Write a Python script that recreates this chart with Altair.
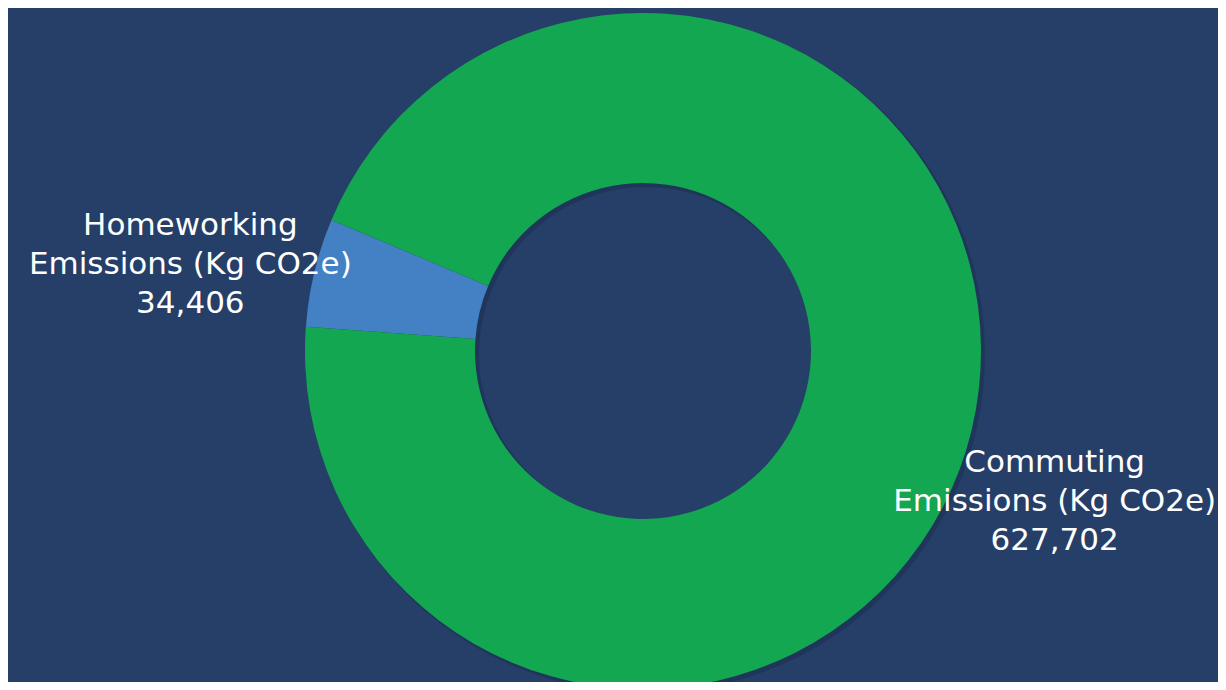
import math
import altair as alt
import pandas as pd

categories = ["Homeworking Emissions (Kg CO2e)", "Commuting Emissions (Kg CO2e)"]
values = [34406, 627702]
colors = ["#4480C4", "#14A752"]

BG = "#263F68"
total = sum(values)
start = math.radians(274.1)
theta_scale = alt.Scale(domain=[0, total], range=[start, start + 2 * math.pi])

labels = []
for c, v in zip(categories, values):
    a, b = c.split(" Emissions ")
    labels.append(f"{a}\nEmissions {b}\n{v:,}")

df = pd.DataFrame({
    "category": categories,
    "value": values,
    "idx": list(range(len(values))),
    "label": labels,
})

cx, cy = 635, 343

base = alt.Chart(df).encode(x=alt.value(cx), y=alt.value(cy))

shadow = alt.Chart(df).mark_arc(radius=339, radius2=167, color="#0d1a30", opacity=0.25).encode(
    theta=alt.Theta("value:Q", stack=True, scale=theta_scale),
    order=alt.Order("idx:Q"),
    x=alt.value(cx + 3), y=alt.value(cy + 3),
)

arcs = base.mark_arc(radius=338, radius2=168, stroke=None).encode(
    theta=alt.Theta("value:Q", stack=True, scale=theta_scale),
    order=alt.Order("idx:Q"),
    color=alt.Color("category:N", scale=alt.Scale(domain=categories, range=colors), legend=None),
)

def label_layer(name, dx, dy):
    return base.transform_window(
        cum="sum(value)", sort=[alt.SortField("idx")]
    ).transform_calculate(
        mid="datum.cum - datum.value / 2"
    ).transform_filter(
        alt.datum.category == name
    ).mark_text(
        radius=450, dx=dx, dy=dy, font="DejaVu Sans", fontSize=31, color="white",
        lineBreak="\n", lineHeight=39, align="center", baseline="middle",
    ).encode(
        theta=alt.Theta("mid:Q", stack=None, scale=theta_scale),
        text="label:N",
    )

chart = alt.layer(
    shadow, arcs,
    label_layer(categories[0], -15, -20),
    label_layer(categories[1], -26, 7),
).properties(
    width=1210, height=674, background=BG, padding=0,
    autosize=alt.AutoSizeParams(type="none"),
).configure_view(stroke=None)

chart.save("out.html", embed_options={"renderer": "svg", "actions": False})
